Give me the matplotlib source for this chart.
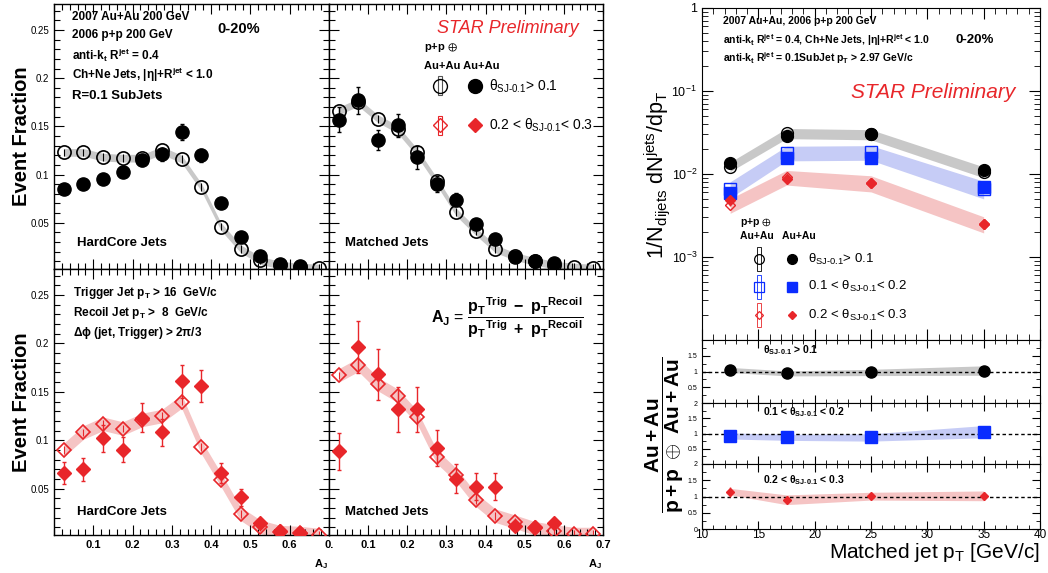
import numpy as np
import matplotlib.pyplot as plt
from matplotlib.ticker import MultipleLocator, FixedLocator, LogLocator, NullFormatter

plt.rcParams['font.family'] = ['Liberation Sans', 'DejaVu Sans']
plt.rcParams['mathtext.fontset'] = 'custom'
plt.rcParams['mathtext.rm'] = 'Liberation Sans'
plt.rcParams['mathtext.it'] = 'Liberation Sans:italic'
plt.rcParams['mathtext.bf'] = 'Liberation Sans:bold'
plt.rcParams['mathtext.default'] = 'regular'

# ---- A_J distributions (bin centres) ----
aj = [0.025, 0.075, 0.125, 0.175, 0.225, 0.275, 0.325,
      0.375, 0.425, 0.475, 0.525, 0.575, 0.625, 0.675]

# HardCore jets, theta > 0.1 (black)
hc1_pp = [0.123, 0.123, 0.118, 0.117, 0.117, 0.125, 0.116, 0.087, 0.046, 0.023, 0.011, 0.006, 0.004, 0.003]
hc1_aa = [0.085, 0.090, 0.095, 0.103, 0.115, 0.121, 0.144, 0.120, 0.071, 0.035, 0.016, 0.007, 0.005]
hc1_aa_err = [0.004, 0.004, 0.005, 0.005, 0.006, 0.007, 0.008, 0.007, 0.005, 0.004, 0.003, 0.002, 0.002]

# Matched jets, theta > 0.1 (black)
mj1_pp = [0.166, 0.175, 0.158, 0.147, 0.123, 0.093, 0.061, 0.041, 0.023, 0.015, 0.010, 0.006, 0.004, 0.003]
mj1_aa = [0.157, 0.177, 0.136, 0.151, 0.118, 0.090, 0.074, 0.049, 0.033, 0.014, 0.010, 0.008]
mj1_aa_err = [0.013, 0.014, 0.010, 0.012, 0.012, 0.008, 0.007, 0.005, 0.004, 0.003, 0.002, 0.002]

# HardCore jets, 0.2 < theta < 0.3 (red)
hc3_pp = [0.090, 0.108, 0.117, 0.112, 0.121, 0.125, 0.140, 0.093, 0.059, 0.024, 0.0105, 0.005, 0.004, 0.002]
hc3_aa = [0.066, 0.070, 0.102, 0.090, 0.123, 0.108, 0.161, 0.156, 0.066, 0.041, 0.014, 0.006, 0.004]
hc3_aa_err = [0.011, 0.012, 0.014, 0.013, 0.015, 0.014, 0.017, 0.017, 0.010, 0.009, 0.004, 0.003, 0.003]

# Matched jets, 0.2 < theta < 0.3 (red)
mj3_pp = [0.167, 0.178, 0.158, 0.146, 0.124, 0.083, 0.064, 0.0385, 0.022, 0.0157, 0.009, 0.0057, 0.003, 0.003]
mj3_aa = [0.0885, 0.196, 0.168, 0.132, 0.132, 0.092, 0.060, 0.052, 0.052, 0.011, 0.010, 0.014]
mj3_aa_err = [0.019, 0.027, 0.026, 0.023, 0.023, 0.019, 0.015, 0.014, 0.014, 0.004, 0.003, 0.005]

pp_err = [0.004] * 14
grey_sys = [0.004] * 14
red_sys = [0.007] * 14

# ---- pT spectra ----
pt = [12.5, 17.5, 25, 35]
th1_aa = [0.0134, 0.029, 0.030, 0.0112]
th1_pp = [0.0123, 0.031, 0.030, 0.0106]
th1_sys = [0.13, 0.14, 0.14, 0.15]
th2_aa = [0.0059, 0.0155, 0.0157, 0.0070]
th2_pp = [0.0066, 0.0180, 0.0183, 0.0066]
th2_sys = [0.22, 0.20, 0.20, 0.24]
th3_aa = [0.0048, 0.0086, 0.0077, 0.0025]
th3_pp = [0.0042, 0.0092, 0.0078, 0.0025]
th3_sys = [0.20, 0.20, 0.22, 0.22]
th3_err = [0.0007, 0.0010, 0.0006, 0.0003]

# ---- ratios ----
r1 = [1.05, 0.94, 0.97, 1.03]
r1_sys = [0.08, 0.08, 0.10, 0.15]
r2 = [0.92, 0.875, 0.87, 1.06]
r2_sys = [0.10, 0.10, 0.12, 0.20]
r3 = [1.15, 0.90, 1.01, 1.02]
r3_err = [0.15, 0.07, 0.07, 0.12]
r3_sys = [0.10, 0.15, 0.12, 0.15]

RED = '#e8262a'
PINK = '#f5c4c4'
GREY = '#c8c8c8'
BLUE = '#0a2cff'
LBLUE = '#c6ccf6'

W, H = 1048, 573
fig = plt.figure(figsize=(10.48, 5.73), dpi=100)


def box(l, t, r, b):
    return [l / W, 1 - b / H, (r - l) / W, (b - t) / H]


def root_style(ax, xmaj=0.1, xmin=0.02, ymaj=0.05, ymin=0.01):
    ax.xaxis.set_major_locator(MultipleLocator(xmaj))
    ax.xaxis.set_minor_locator(MultipleLocator(xmin))
    ax.yaxis.set_major_locator(MultipleLocator(ymaj))
    ax.yaxis.set_minor_locator(MultipleLocator(ymin))
    ax.tick_params(which='both', direction='in', top=True, right=True, width=0.8)
    ax.tick_params(which='major', length=7, labelsize=7)
    ax.tick_params(which='minor', length=4)
    for s in ax.spines.values():
        s.set_linewidth(1.0)


def aj_panel(ax, pp, aa, aa_err, sys, band_col, col, open_m, fill_m, ms):
    x = np.array(aj)
    p = np.array(pp)
    ax.fill_between(x, p - np.array(sys), p + np.array(sys), color=band_col, lw=0, zorder=1)
    ax.errorbar(x, p, yerr=pp_err, fmt=open_m, ms=ms, mfc='none', mec=col, mew=1.2,
                ecolor=col, elinewidth=0.8, capsize=0, zorder=3)
    xa = x[:len(aa)]
    ax.errorbar(xa, aa, yerr=aa_err, fmt=fill_m, ms=ms, color=col, ecolor=col,
                elinewidth=1.0, capsize=1.5, zorder=4)
    ax.set_xlim(0, 0.7)
    ax.set_ylim(0.002, 0.277)
    root_style(ax)


ax_tl = fig.add_axes(box(54, 4, 329, 269))
ax_tm = fig.add_axes(box(329, 4, 603, 269))
ax_bl = fig.add_axes(box(54, 269, 329, 535))
ax_bm = fig.add_axes(box(329, 269, 603, 535))

aj_panel(ax_tl, hc1_pp, hc1_aa, hc1_aa_err, grey_sys, GREY, 'black', 'o', 'o', 9.5)
aj_panel(ax_tm, mj1_pp, mj1_aa, mj1_aa_err, grey_sys, GREY, 'black', 'o', 'o', 9.5)
aj_panel(ax_bl, hc3_pp, hc3_aa, hc3_aa_err, red_sys, PINK, RED, 'D', 'D', 7.5)
aj_panel(ax_bm, mj3_pp, mj3_aa, mj3_aa_err, red_sys, PINK, RED, 'D', 'D', 7.5)

for ax in (ax_tl, ax_tm):
    ax.tick_params(labelbottom=False)
for ax in (ax_tm, ax_bm):
    ax.tick_params(labelleft=False)

ax_bl.xaxis.set_major_locator(FixedLocator([0.1, 0.2, 0.3, 0.4, 0.5, 0.6, 0.7]))
ax_bl.set_xticklabels(['0.1', '0.2', '0.3', '0.4', '0.5', '0.6', '0.'], fontweight='bold')
ax_bm.xaxis.set_major_locator(FixedLocator([0.1, 0.2, 0.3, 0.4, 0.5, 0.6, 0.7]))
ax_bm.set_xticklabels(['0.1', '0.2', '0.3', '0.4', '0.5', '0.6', '0.7'], fontweight='bold')
for ax in (ax_bl, ax_bm):
    ax.tick_params(axis='x', labelsize=8)
    ax.text(0.97, -0.11, r'$\mathbf{A_J}$', transform=ax.transAxes, ha='center', va='center', fontsize=8)

for ax in (ax_tl, ax_bl):
    ax.set_yticks([0.05, 0.1, 0.15, 0.2, 0.25])
    ax.set_yticklabels(['0.05', '0.1', '0.15', '0.2', '0.25'])

fig.text(22 / W, 1 - 136 / H, 'Event Fraction', rotation=90, fontsize=14.5, fontweight='bold',
         ha='center', va='center')
fig.text(22 / W, 1 - 402 / H, 'Event Fraction', rotation=90, fontsize=14.5, fontweight='bold',
         ha='center', va='center')

# texts top-left
bt = dict(transform=ax_tl.transAxes, fontweight='bold', fontsize=8.5, va='center', ha='left')
ax_tl.text(0.065, 0.951, '2007 Au+Au 200 GeV', **bt)
ax_tl.text(0.065, 0.883, '2006 p+p 200 GeV', **bt)
ax_tl.text(0.065, 0.808, r'anti-k$_\mathbf{t}$ R$^\mathbf{jet}$ = 0.4', **bt)
ax_tl.text(0.065, 0.732, r'Ch+Ne Jets, |$\mathbf{\eta}$|+R$^\mathbf{jet}$ < 1.0', **bt)
ax_tl.text(0.065, 0.653, 'R=0.1 SubJets', transform=ax_tl.transAxes, fontweight='bold',
           fontsize=9.5, va='center')
ax_tl.text(0.67, 0.906, '0-20%', transform=ax_tl.transAxes, fontweight='bold',
           fontsize=10.5, ha='center', va='center')
ax_tl.text(0.084, 0.098, 'HardCore Jets', transform=ax_tl.transAxes, fontweight='bold',
           fontsize=9.5, va='center')
ax_bl.text(0.084, 0.088, 'HardCore Jets', transform=ax_bl.transAxes, fontweight='bold',
           fontsize=9.5, va='center')
ax_tm.text(0.058, 0.098, 'Matched Jets', transform=ax_tm.transAxes, fontweight='bold',
           fontsize=9.5, va='center')
ax_bm.text(0.058, 0.088, 'Matched Jets', transform=ax_bm.transAxes, fontweight='bold',
           fontsize=9.5, va='center')

# top-middle legend
ax_tm.text(0.653, 0.909, 'STAR Preliminary', transform=ax_tm.transAxes, color=RED,
           style='italic', fontsize=13, ha='center', va='center')
ax_tm.text(0.345, 0.834, r'p+p $\oplus$', transform=ax_tm.transAxes, fontweight='bold', fontsize=8, va='center')
ax_tm.text(0.345, 0.766, 'Au+Au Au+Au', transform=ax_tm.transAxes, fontweight='bold', fontsize=8, va='center')
ax_tm.plot([0.405], [0.691], 'o', ms=10, mfc='none', mec='black', mew=1.0, transform=ax_tm.transAxes)
ax_tm.add_patch(plt.Rectangle((0.398, 0.655), 0.014, 0.072, fill=False, ec='#555555', lw=0.8,
                              transform=ax_tm.transAxes))
ax_tm.plot([0.533], [0.691], 'o', ms=10, color='black', transform=ax_tm.transAxes)
ax_tm.text(0.585, 0.691, r'$\theta_{SJ\text{-}0.1}$> 0.1', transform=ax_tm.transAxes, fontsize=10, va='center')
ax_tm.plot([0.405], [0.543], 'D', ms=7, mfc='none', mec=RED, mew=1.0, transform=ax_tm.transAxes)
ax_tm.add_patch(plt.Rectangle((0.398, 0.507), 0.014, 0.072, fill=False, ec=RED, lw=0.8,
                              transform=ax_tm.transAxes))
ax_tm.plot([0.533], [0.543], 'D', ms=7, color=RED, transform=ax_tm.transAxes)
ax_tm.text(0.585, 0.543, r'0.2 < $\theta_{SJ\text{-}0.1}$< 0.3', transform=ax_tm.transAxes, fontsize=10, va='center')

# bottom-left cuts
bb = dict(transform=ax_bl.transAxes, fontweight='bold', fontsize=8.5, va='center', ha='left')
ax_bl.text(0.069, 0.91, r'Trigger Jet p$_\mathbf{T}$ > 16  GeV/c', **bb)
ax_bl.text(0.069, 0.835, r'Recoil Jet p$_\mathbf{T}$ >  8  GeV/c', **bb)
ax_bl.text(0.069, 0.759, r'$\mathbf{\Delta\phi}$ (jet, Trigger) > 2$\mathbf{\pi}$/3', **bb)

ax_bm.text(0.65, 0.816,
           r'$\mathbf{A_J}$ = $\mathbf{\dfrac{p_T{}^{Trig}\ -\ p_T{}^{Recoil}}{p_T{}^{Trig}\ +\ p_T{}^{Recoil}}}$',
           transform=ax_bm.transAxes, fontsize=11.5, ha='center', va='center')

# ---- right: spectra ----
ax_sp = fig.add_axes(box(702, 8, 1040, 340))
ax_sp.set_yscale('log')
ax_sp.set_xlim(10, 40)
ax_sp.set_ylim(1e-4, 1)
series = [(th1_pp, th1_aa, th1_sys, GREY, 'black', 'o', 8.5),
          (th2_pp, th2_aa, th2_sys, LBLUE, BLUE, 's', 8.5),
          (th3_pp, th3_aa, th3_sys, PINK, RED, 'D', 5)]
for pp, aa, sys, bc, c, m, ms in series:
    p = np.array(pp)
    s = np.array(sys)
    ax_sp.fill_between(pt, p * (1 - s), p * (1 + s), color=bc, lw=0, zorder=1)
    ax_sp.plot(pt, pp, m, ms=ms, mfc='none', mec=c, mew=1.0, zorder=3)
    ax_sp.plot(pt, aa, m, ms=ms, color=c, zorder=4)
ax_sp.errorbar(pt, th3_aa, yerr=th3_err, fmt='none', ecolor=RED, elinewidth=1.0, zorder=4)
ax_sp.xaxis.set_major_locator(MultipleLocator(5))
ax_sp.xaxis.set_minor_locator(MultipleLocator(1))
ax_sp.yaxis.set_major_locator(LogLocator(base=10, numticks=10))
ax_sp.yaxis.set_minor_locator(LogLocator(base=10, subs=np.arange(2, 10), numticks=10))
ax_sp.yaxis.set_minor_formatter(NullFormatter())
ax_sp.set_yticks([1e-3, 1e-2, 1e-1, 1])
ax_sp.set_yticklabels([r'$10^{-3}$', r'$10^{-2}$', r'$10^{-1}$', '1'])
ax_sp.tick_params(which='both', direction='in', top=True, right=True, labelbottom=False, labelsize=9)
ax_sp.tick_params(which='major', length=8)
ax_sp.tick_params(which='minor', length=4)

st = dict(transform=ax_sp.transAxes, fontweight='bold', fontsize=7.5, va='center', ha='left')
ax_sp.text(0.062, 0.961, '2007 Au+Au, 2006 p+p 200 GeV', **st)
ax_sp.text(0.062, 0.904, r'anti-k$_\mathbf{t}$ R$^\mathbf{jet}$ = 0.4, Ch+Ne Jets, |$\mathbf{\eta}$|+R$^\mathbf{jet}$ < 1.0', **st)
ax_sp.text(0.062, 0.849, r'anti-k$_\mathbf{t}$ R$^\mathbf{jet}$ = 0.1SubJet p$_\mathbf{T}$ > 2.97 GeV/c', **st)
ax_sp.text(0.808, 0.904, '0-20%', transform=ax_sp.transAxes, fontweight='bold', fontsize=9.5,
           ha='center', va='center')
ax_sp.text(0.684, 0.744, 'STAR Preliminary', transform=ax_sp.transAxes, color=RED,
           style='italic', fontsize=15, ha='center', va='center')
ax_sp.text(0.112, 0.355, r'p+p $\oplus$', transform=ax_sp.transAxes, fontweight='bold', fontsize=7.5, va='center')
ax_sp.text(0.112, 0.313, 'Au+Au   Au+Au', transform=ax_sp.transAxes, fontweight='bold', fontsize=7.5, va='center')
leg_rows = [(0.244, 'black', 'o', 7, r'$\theta_{SJ\text{-}0.1}$> 0.1'),
            (0.160, BLUE, 's', 7, r'0.1 < $\theta_{SJ\text{-}0.1}$< 0.2'),
            (0.075, RED, 'D', 4.5, r'0.2 < $\theta_{SJ\text{-}0.1}$< 0.3')]
for y, c, m, ms, lab in leg_rows:
    ax_sp.plot([0.169], [y], m, ms=ms, mfc='none', mec=c, mew=0.9, transform=ax_sp.transAxes)
    ax_sp.add_patch(plt.Rectangle((0.163, y - 0.035), 0.012, 0.07, fill=False, ec=c, lw=0.6,
                                  transform=ax_sp.transAxes))
    ax_sp.plot([0.266], [y], m, ms=ms, color=c, transform=ax_sp.transAxes)
    ax_sp.text(0.314, y, lab, transform=ax_sp.transAxes, fontsize=9.5, va='center')

fig.text(0.627, 0.695, r'$1/N_{dijets}\ dN^{jets}/dp_{T}$', rotation=90,
         fontsize=15.5, ha='center', va='center')

# ---- right: ratios ----
ratio_rows = [((340, 403), r1, r1_sys, None, GREY, 'black', 'o', 8, r'$\mathbf{\theta_{SJ\text{-}0.1}}$ > 0.1', 0.84),
              ((403, 464), r2, r2_sys, None, LBLUE, BLUE, 's', 8, r'0.1 < $\mathbf{\theta_{SJ\text{-}0.1}}$ < 0.2', 0.85),
              ((464, 529), r3, r3_sys, r3_err, PINK, RED, 'D', 4.5, r'0.2 < $\mathbf{\theta_{SJ\text{-}0.1}}$ < 0.3', 0.75)]
for i, ((t, b), r, rs, re, bc, c, m, ms, lab, ty) in enumerate(ratio_rows):
    ax = fig.add_axes(box(702, t, 1040, b))
    rr = np.array(r)
    ax.fill_between(pt, rr - np.array(rs), rr + np.array(rs), color=bc, lw=0, zorder=1)
    ax.axhline(1, color='black', ls=(0, (2.5, 2)), lw=1.0, zorder=2)
    if re is not None:
        ax.errorbar(pt, r, yerr=re, fmt=m, ms=ms, color=c, elinewidth=1.0, zorder=4)
    else:
        ax.plot(pt, r, m, ms=ms, color=c, zorder=4)
    ax.set_xlim(10, 40)
    ax.set_ylim(0, 2)
    ax.xaxis.set_major_locator(MultipleLocator(5))
    ax.xaxis.set_minor_locator(MultipleLocator(1))
    ax.yaxis.set_major_locator(MultipleLocator(0.5))
    ax.yaxis.set_minor_locator(MultipleLocator(0.25))
    ax.tick_params(which='both', direction='in', top=True, right=True, labelsize=5)
    ax.tick_params(which='major', length=6)
    ax.tick_params(which='minor', length=3)
    if i == 0:
        ax.set_yticks([0.5, 1, 1.5])
        ax.set_yticklabels(['0.5', '1', '1.5'])
    elif i == 1:
        ax.set_yticks([0.5, 1, 1.5, 2])
        ax.set_yticklabels(['0.5', '1', '1.5', '2'])
    else:
        ax.set_yticks([0, 0.5, 1, 1.5, 2])
        ax.set_yticklabels(['0', '0.5', '1', '1.5', '2'])
    if i < 2:
        ax.tick_params(labelbottom=False)
    else:
        ax.tick_params(axis='x', labelsize=8.5, pad=0)
    ax.text(0.18, ty, lab, transform=ax.transAxes, fontsize=7.5, fontweight='bold', va='center')

fig.text(0.634, 0.241, r'$\mathbf{\dfrac{Au+Au}{p+p\ \oplus\ Au+Au}}$', rotation=90,
         fontsize=15, ha='center', va='center')
fig.text(0.992, 1 - 553 / H, r'Matched jet p$_{T}$ [GeV/c]', fontsize=15, ha='right', va='center')

fig.savefig('out.png', dpi=100)
